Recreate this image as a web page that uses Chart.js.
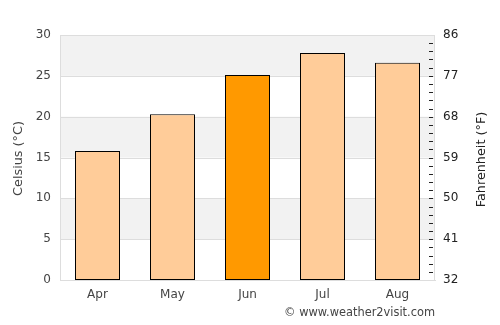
<!DOCTYPE html>
<html><head><meta charset="utf-8">
<script src="https://cdn.jsdelivr.net/npm/chart.js@4"></script>
<style>html,body{margin:0;padding:0;background:#fff}canvas{display:block}</style>
</head><body>
<canvas id="c" width="500" height="325"></canvas>
<script>
const months = ["Apr", "May", "Jun", "Jul", "Aug"];
const celsius = [15.8, 20.3, 25.1, 27.8, 26.6];
const barColors = ["#ffcc99", "#ffcc99", "#ff9900", "#ffcc99", "#ffcc99"];
const celsiusTicks = [0, 5, 10, 15, 20, 25, 30];
const fahrenheitTicks = [32, 41, 50, 59, 68, 77, 86];
const leftTitle = "Celsius (°C)";
const rightTitle = "Fahrenheit (°F)";
const footerText = "© www.weather2visit.com";

const FONT = "'DejaVu Sans', sans-serif";

const bandsPlugin = {
  id: 'bands',
  beforeDatasetsDraw(chart) {
    const {ctx, chartArea: a, scales: {y}} = chart;
    ctx.save();
    for (let i = 0; i < celsiusTicks.length - 1; i++) {
      const lo = celsiusTicks[i], hi = celsiusTicks[i + 1];
      if (i % 2 === 1) {
        const y1 = y.getPixelForValue(hi), y0 = y.getPixelForValue(lo);
        ctx.fillStyle = '#f2f2f2';
        ctx.fillRect(a.left, y1, a.right - a.left, y0 - y1);
      }
    }
    ctx.strokeStyle = '#dddddd';
    ctx.lineWidth = 1;
    celsiusTicks.forEach(v => {
      const py = Math.round(y.getPixelForValue(v)) + 0.5;
      ctx.beginPath(); ctx.moveTo(a.left, py); ctx.lineTo(a.right, py); ctx.stroke();
    });
    ctx.beginPath();
    ctx.moveTo(Math.round(a.left) + 0.5, a.top); ctx.lineTo(Math.round(a.left) + 0.5, a.bottom);
    ctx.moveTo(Math.round(a.right) - 0.5, a.top); ctx.lineTo(Math.round(a.right) - 0.5, a.bottom);
    ctx.stroke();
    ctx.restore();
  },
  afterDatasetsDraw(chart) {
    const {ctx, chartArea: a, scales: {y}} = chart;
    ctx.save();
    ctx.strokeStyle = '#222';
    ctx.lineWidth = 1;
    const cMin = celsiusTicks[0], cMax = celsiusTicks[celsiusTicks.length - 1];
    for (let v = cMin + 1; v < cMax; v++) {
      const py = Math.round(y.getPixelForValue(v)) + 0.5;
      ctx.beginPath(); ctx.moveTo(a.right - 6, py); ctx.lineTo(a.right - 2, py); ctx.stroke();
    }
    const cy = (a.top + a.bottom) / 2;
    ctx.font = "12.8px " + FONT;
    ctx.textAlign = 'center';
    ctx.textBaseline = 'middle';
    ctx.fillStyle = '#444';
    ctx.save(); ctx.translate(19, cy + 1); ctx.rotate(-Math.PI / 2); ctx.fillText(leftTitle, 0, 0); ctx.restore();
    ctx.fillStyle = '#222';
    ctx.save(); ctx.translate(482, cy + 2); ctx.rotate(-Math.PI / 2); ctx.fillText(rightTitle, 0, 0); ctx.restore();
    ctx.fillStyle = '#444';
    ctx.font = "11.4px " + FONT;
    ctx.textAlign = 'right';
    ctx.fillText(footerText, a.right, 313);
    ctx.restore();
  }
};

new Chart(document.getElementById('c'), {
  type: 'bar',
  data: {
    labels: months,
    datasets: [{
      data: celsius,
      backgroundColor: barColors,
      borderColor: '#000',
      borderWidth: 1,
      borderSkipped: false,
      barPercentage: 0.6,
      categoryPercentage: 1.0,
      yAxisID: 'y'
    }]
  },
  options: {
    responsive: false,
    animation: false,
    devicePixelRatio: 1,
    layout: {padding: {top: 35, bottom: 0, left: 0, right: 0}},
    plugins: {legend: {display: false}, tooltip: {enabled: false}},
    scales: {
      x: {
        grid: {display: false, drawTicks: false},
        border: {display: true, color: '#dddddd'},
        ticks: {color: '#444', font: {family: FONT, size: 12}, padding: 8},
        afterFit(s) { s.height = 45; }
      },
      y: {
        position: 'left',
        min: 0, max: 30,
        afterBuildTicks(s) { s.ticks = celsiusTicks.map(v => ({value: v})); },
        grid: {display: false, drawTicks: false},
        border: {display: false},
        ticks: {color: '#444', font: {family: FONT, size: 12}, padding: 9},
        afterFit(s) { s.width = 60; }
      },
      y2: {
        position: 'right',
        min: 32, max: 86,
        afterBuildTicks(s) { s.ticks = fahrenheitTicks.map(v => ({value: v})); },
        grid: {display: false, drawTicks: false},
        border: {display: false},
        ticks: {color: '#222', font: {family: FONT, size: 12}, padding: 8},
        afterFit(s) { s.width = 65; }
      }
    }
  },
  plugins: [bandsPlugin]
});
</script>
</body></html>
